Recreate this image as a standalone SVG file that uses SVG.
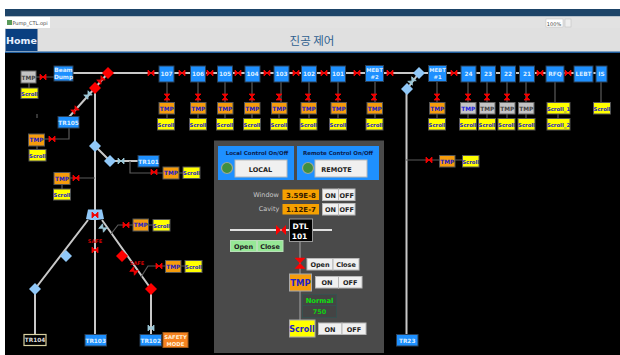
<svg xmlns="http://www.w3.org/2000/svg" width="620" height="355" viewBox="0 0 620 355">
<style>
text{font-family:"DejaVu Sans",sans-serif;font-weight:bold;text-anchor:middle;font-size:5.800px}
.b rect{fill:#1e90ff;stroke:#2b3f55;stroke-width:1}.b text{fill:#dbeeff}
.t rect{fill:#f59c0c;stroke:#555;stroke-width:1}.t text{fill:#2222c8}
.g rect{fill:#c4c4c4;stroke:#666;stroke-width:1}.g text{fill:#444}.g .bl{fill:#2222e0}
.s rect{fill:#ffff00;stroke:#555;stroke-width:1}.s text{fill:#2222c8;font-size:5.300px}
.w{stroke:#c8c8c8;stroke-width:2;fill:none}
.d{stroke:#5a5a5a;stroke-width:1.200;fill:none}
.btn rect{fill:#f0f0f0;stroke:#b8b8b8;stroke-width:1}.btn text{fill:#222;font-size:6.500px}
.grn rect{fill:#96e896;stroke:#b8e0b8;stroke-width:1}.grn text{fill:#222;font-size:6.500px}
.rd{fill:#ff0000}.lb{fill:#90c8f8}
</style>
<defs>
<path id="vh" d="M-3-3L3 3V-3L-3 3Z" fill="#f00000" stroke="#f00000" stroke-width=".8"/>
<path id="vv" d="M-3-3H3L-3 3H3Z" fill="#f00000" stroke="#f00000" stroke-width=".8"/>
<path id="vl" d="M-3-3L3 3V-3L-3 3Z" fill="#9cc8d8" stroke="#9cc8d8" stroke-width=".8"/>
<path id="dm" d="M-6 0L0-6L6 0L0 6Z"/>
</defs>
<rect width="620" height="355" fill="#fff"/>
<g id="window-chrome">
<rect x="5" y="9" width="615" height="7.500" fill="#1d4468"/>
<rect x="5" y="16.500" width="615" height="12" fill="#e2e2e2"/>
<rect x="5" y="17" width="45" height="11" fill="#fff"/>
<rect x="7" y="20" width="5" height="5" fill="#5a9a5a"/>
<text x="30" y="25" style="font-size:5px;font-weight:normal;fill:#444">Pump_CTL.opi</text>
<rect x="546" y="19" width="17" height="8" fill="#fff" stroke="#bbb" stroke-width=".5"/>
<text x="554" y="25.500" style="font-size:5px;font-weight:normal;fill:#444">100%</text>
<rect x="565" y="19" width="6" height="8" fill="#eee" stroke="#bbb" stroke-width=".5"/>
<rect x="5" y="28" width="615" height="24" fill="#e0e0e0"/>
<rect x="5" y="51.500" width="615" height="1.500" fill="#1f5c9c"/>
<rect x="5" y="53" width="615" height="302" fill="#000"/>
</g>
<g id="home"><rect x="5.500" y="29" width="32" height="22" fill="#0a3f80"/><text x="21.500" y="43.500" style="font-size:9.500px;fill:#e8f0ff">Home</text></g>
<text id="title" x="312" y="45" style="font-size:11.500px;font-weight:normal;fill:#2f5f8f;font-family:'Noto Sans CJK KR',sans-serif">진공 제어</text>
<g id="connectors">
<path class="w" d="M73 73H604M108 73L95 88L69 117M95 88V335M95 146L110 161H138M88 220L35 289V335M102 220L151 289V335M419 73L407 89M406.500 89V335"/>
<path class="d" d="M36 77H54M167 82V102M198 82V102M225 82V102M252 82V102M281 82V102M309 82V102M338 82V102M375 82V102M437 82V102M468 82V102M487 82V102M507 82V102M526 82V102M555 82V102M601 82V102M29 83V88M37 114V118M167 114V118M198 114V118M225 114V118M252 114V118M279 114V118M309 114V118M338 114V118M375 114V118M437 114V118M468 114V118M487 114V118M507 114V118M526 114V118M558 114V118M69 128V139H45M37 146V149M130 161V173H163M179 173H183M70 178H95M62 184V189M111 234L118 225H133M148 225H153M141 277L148 266H165M181 266H185M406 160H439M455 160H462"/>
</g>
<g id="valves">
<use href="#vh" x="43" y="77"/><use href="#vh" x="151" y="73"/><use href="#vh" x="182" y="73"/><use href="#vh" x="210" y="73"/><use href="#vh" x="238" y="73"/><use href="#vh" x="267" y="73"/><use href="#vh" x="296" y="73"/><use href="#vh" x="324" y="73"/><use href="#vh" x="357" y="73"/><use href="#vh" x="390" y="73"/><use href="#vh" x="454" y="73"/><use href="#vh" x="540" y="73"/><use href="#vh" x="568" y="73"/>
<use href="#vv" x="167" y="97"/><use href="#vv" x="198" y="97"/><use href="#vv" x="225" y="97"/><use href="#vv" x="252" y="97"/><use href="#vv" x="279" y="97"/><use href="#vv" x="308" y="97"/><use href="#vv" x="338" y="97"/><use href="#vv" x="374" y="97"/><use href="#vv" x="437" y="97"/><use href="#vv" x="468" y="97"/><use href="#vv" x="487" y="97"/><use href="#vv" x="507" y="97"/><use href="#vv" x="527" y="97"/>
<use href="#vh" x="101" y="80" transform="rotate(-45 101 80)"/><use href="#vh" x="75" y="110" transform="rotate(-45 75 110)"/><use href="#vl" x="88" y="95" transform="rotate(-45 88 95)"/><use href="#vl" x="412" y="81" transform="rotate(-50 412 81)"/>
<use href="#vh" x="52" y="139"/><use href="#vl" x="121" y="161"/><use href="#vh" x="154" y="172"/><use href="#vh" x="76" y="178"/><use href="#vl" x="103" y="228" transform="rotate(40 103 228)"/><use href="#vh" x="126" y="225"/><use href="#vh" x="95" y="250"/><use href="#vh" x="134" y="271" transform="rotate(40 134 271)"/><use href="#vh" x="159" y="266"/><use href="#vl" x="151" y="328"/><use href="#vh" x="429" y="160"/>
</g>
<g id="junctions">
<use href="#dm" class="rd" x="108" y="73"/><use href="#dm" class="rd" x="95" y="88"/>
<use href="#dm" class="lb" x="95" y="146"/><use href="#dm" class="lb" x="110" y="161"/>
<use href="#dm" class="lb" x="66" y="256"/><use href="#dm" class="lb" x="35" y="289"/>
<use href="#dm" class="rd" x="122" y="256"/><use href="#dm" class="rd" x="151" y="289"/>
<use href="#dm" class="lb" x="419" y="73"/><use href="#dm" class="lb" x="407" y="89"/>
<path class="lb" d="M88 209.500H102L104 219L97 220H91L86 219Z"/><use href="#vh" x="95" y="215"/>
</g>
<g id="safe-labels">
<text x="95" y="243" style="font-size:5px;fill:#d00000">SAFE</text><text x="137" y="265" style="font-size:5px;fill:#d00000">SAFE</text>
</g>
<g id="nodes-top">
<g id="n-beam" class="b"><rect x="54" y="66" width="19" height="15"/><text x="63.500" y="72">Beam</text><text x="63.500" y="79">Dump</text></g>
<g id="n-107" class="b"><rect x="159" y="66" width="15" height="16"/><text x="166.500" y="76">107</text></g>
<g id="n-106" class="b"><rect x="190.500" y="66" width="15" height="16"/><text x="198" y="76">106</text></g>
<g id="n-105" class="b"><rect x="217.500" y="66" width="15" height="16"/><text x="225" y="76">105</text></g>
<g id="n-104" class="b"><rect x="245" y="66" width="15" height="16"/><text x="252.500" y="76">104</text></g>
<g id="n-103" class="b"><rect x="274" y="66" width="15" height="16"/><text x="281.500" y="76">103</text></g>
<g id="n-102" class="b"><rect x="301.500" y="66" width="15" height="16"/><text x="309" y="76">102</text></g>
<g id="n-101" class="b"><rect x="330.500" y="66" width="15" height="16"/><text x="338" y="76">101</text></g>
<g id="n-mebt2" class="b"><rect x="365.500" y="65.500" width="18" height="16"/><text x="374.500" y="72" style="font-size:5.300px">MEBT</text><text x="374.500" y="79" style="font-size:5.300px">#2</text></g>
<g id="n-mebt1" class="b"><rect x="428.500" y="65.500" width="18" height="16"/><text x="437.500" y="72" style="font-size:5.300px">MEBT</text><text x="437.500" y="79" style="font-size:5.300px">#1</text></g>
<g id="n-24" class="b"><rect x="461" y="66" width="15" height="16"/><text x="468.500" y="76">24</text></g>
<g id="n-23" class="b"><rect x="480.500" y="66" width="15" height="16"/><text x="488" y="76">23</text></g>
<g id="n-22" class="b"><rect x="500.500" y="66" width="15" height="16"/><text x="508" y="76">22</text></g>
<g id="n-21" class="b"><rect x="519.500" y="66" width="15" height="16"/><text x="527" y="76">21</text></g>
<g id="n-rfq" class="b"><rect x="546" y="66" width="18" height="16"/><text x="555" y="76">RFQ</text></g>
<g id="n-lebt" class="b"><rect x="574" y="66" width="19" height="16"/><text x="583.500" y="76">LEBT</text></g>
<g id="n-is" class="b"><rect x="596" y="66" width="11" height="16"/><text x="601.500" y="76">IS</text></g>
</g>
<g id="nodes-pumps">
<g class="g"><rect x="21" y="71" width="15" height="12"/><text x="28.500" y="79.500">TMP</text></g>
<g class="s"><rect x="21" y="88" width="17" height="10.500"/><text x="29.500" y="95.500">Scroll</text></g>
<g class="t"><rect x="159" y="102.500" width="15.500" height="11.500"/><text x="166.800" y="110.500">TMP</text></g><g class="s"><rect x="157.500" y="118.500" width="17" height="11.500"/><text x="166" y="126.500">Scroll</text></g>
<g class="t"><rect x="190.500" y="102.500" width="15.500" height="11.500"/><text x="198.200" y="110.500">TMP</text></g><g class="s"><rect x="189.500" y="118.500" width="17" height="11.500"/><text x="198" y="126.500">Scroll</text></g>
<g class="t"><rect x="217.500" y="102.500" width="15.500" height="11.500"/><text x="225.200" y="110.500">TMP</text></g><g class="s"><rect x="216.500" y="118.500" width="17" height="11.500"/><text x="225" y="126.500">Scroll</text></g>
<g class="t"><rect x="244.500" y="102.500" width="15.500" height="11.500"/><text x="252.200" y="110.500">TMP</text></g><g class="s"><rect x="243.500" y="118.500" width="17" height="11.500"/><text x="252" y="126.500">Scroll</text></g>
<g class="t"><rect x="271.500" y="102.500" width="15.500" height="11.500"/><text x="279.200" y="110.500">TMP</text></g><g class="s"><rect x="270.500" y="118.500" width="17" height="11.500"/><text x="279" y="126.500">Scroll</text></g>
<g class="t"><rect x="301" y="102.500" width="15.500" height="11.500"/><text x="308.700" y="110.500">TMP</text></g><g class="s"><rect x="300" y="118.500" width="17" height="11.500"/><text x="308.500" y="126.500">Scroll</text></g>
<g class="t"><rect x="331" y="102.500" width="15.500" height="11.500"/><text x="338.700" y="110.500">TMP</text></g><g class="s"><rect x="329.500" y="118.500" width="17" height="11.500"/><text x="338" y="126.500">Scroll</text></g>
<g class="t"><rect x="367" y="102.500" width="15.500" height="11.500"/><text x="374.700" y="110.500">TMP</text></g><g class="s"><rect x="366" y="118.500" width="17" height="11.500"/><text x="374.500" y="126.500">Scroll</text></g>
<g class="t"><rect x="429.500" y="102.500" width="15.500" height="11.500"/><text x="437.200" y="110.500">TMP</text></g><g class="s"><rect x="428.500" y="118.500" width="17" height="11.500"/><text x="437" y="126.500">Scroll</text></g>
<g class="g"><rect x="460.500" y="102.500" width="15.500" height="11.500"/><text class="bl" x="468.200" y="110.500">TMP</text></g><g class="s"><rect x="459.500" y="118.500" width="17" height="11.500"/><text x="468" y="126.500">Scroll</text></g>
<g class="g"><rect x="479.500" y="102.500" width="15.500" height="11.500"/><text x="487.200" y="110.500">TMP</text></g><g class="s"><rect x="478.500" y="118.500" width="17" height="11.500"/><text x="487" y="126.500">Scroll</text></g>
<g class="g"><rect x="499.500" y="102.500" width="15.500" height="11.500"/><text x="507.200" y="110.500">TMP</text></g><g class="s"><rect x="498" y="118.500" width="17" height="11.500"/><text x="506.500" y="126.500">Scroll</text></g>
<g class="g"><rect x="518.500" y="102.500" width="15.500" height="11.500"/><text x="526.200" y="110.500">TMP</text></g><g class="s"><rect x="518" y="118.500" width="17" height="11.500"/><text x="526.500" y="126.500">Scroll</text></g>
<g class="s"><rect x="547" y="102.500" width="23" height="11.500"/><text x="558.500" y="110.500">Scroll_1</text></g><g class="s"><rect x="547" y="118.500" width="23" height="11.500"/><text x="558.500" y="126.500">Scroll_2</text></g>
<g class="s"><rect x="593.500" y="102.500" width="17" height="11.500"/><text x="602" y="110.500">Scroll</text></g>
</g>
<g id="nodes-lower">
<g id="n-tr105" class="b"><rect x="58" y="116.500" width="21" height="11.500"/><text x="68.500" y="124.500">TR105</text></g>
<g class="t"><rect x="28.500" y="134" width="16" height="12"/><text x="36.500" y="142">TMP</text></g><g class="s"><rect x="29" y="149.500" width="17" height="11.500"/><text x="37.500" y="157.500">Scroll</text></g>
<g id="n-tr101" class="b"><rect x="138" y="155.500" width="21" height="11.500"/><text x="148.500" y="163.500">TR101</text></g>
<g class="t"><rect x="163" y="167" width="16" height="12"/><text x="171" y="175">TMP</text></g><g class="s"><rect x="183" y="167" width="17" height="11.500"/><text x="191.500" y="175">Scroll</text></g>
<g class="t"><rect x="54" y="172.500" width="16" height="12"/><text x="62" y="180.500">TMP</text></g><g class="s"><rect x="53.500" y="189" width="17" height="11"/><text x="62" y="197">Scroll</text></g>
<g class="t"><rect x="133" y="219" width="15.500" height="12"/><text x="140.700" y="227">TMP</text></g><g class="s"><rect x="153" y="219.500" width="17" height="11.500"/><text x="161.500" y="227.500">Scroll</text></g>
<g class="t"><rect x="165.500" y="260.500" width="15.500" height="12"/><text x="173.200" y="268.500">TMP</text></g><g class="s"><rect x="185" y="260.500" width="17" height="12"/><text x="193.500" y="268.500">Scroll</text></g>
<g id="n-tr104"><rect x="24" y="334.500" width="22" height="11" fill="#000" stroke="#d8d0a0" stroke-width="1.200"/><text x="35" y="341.800" style="fill:#ddd">TR104</text></g>
<g id="n-tr103" class="b"><rect x="85" y="334.500" width="21.500" height="11.500"/><text x="95.700" y="342.500">TR103</text></g>
<g id="n-tr102" class="b"><rect x="140" y="334.500" width="21.500" height="11.500"/><text x="150.700" y="342.500">TR102</text></g>
<g id="n-safety"><rect x="163" y="332.500" width="25" height="15" fill="#f58220" stroke="#a05a18"/><text x="175.500" y="339" style="font-size:5.300px;fill:#fff0d8">SAFETY</text><text x="175.500" y="345.500" style="font-size:5.300px;fill:#fff0d8">MODE</text></g>
<g id="n-tr23" class="b"><rect x="396.500" y="334.500" width="21.500" height="11.500"/><text x="407.200" y="342.500">TR23</text></g>
<g class="t"><rect x="439.500" y="155.500" width="15.500" height="11.500"/><text x="447.200" y="163.500">TMP</text></g><g class="s"><rect x="462.500" y="155.500" width="16.500" height="11.500"/><text x="470.700" y="163.500">Scroll</text></g>
</g>
<g id="panel">
<rect x="214" y="140.500" width="170" height="212.500" fill="#4a4a4a"/>
<g id="local"><rect x="218" y="146" width="76" height="34" fill="#1e90ff"/><text x="257" y="155" style="font-size:5.500px;fill:#0a2050">Local Control On/Off</text><circle cx="227" cy="168" r="5.500" fill="#3f8f3f" stroke="#9aa89a" stroke-width="1.200"/><g class="btn"><rect x="235" y="160" width="52" height="17"/><text x="260.500" y="171.500">LOCAL</text></g></g>
<g id="remote"><rect x="297" y="146" width="82" height="34" fill="#1e90ff"/><text x="338" y="155" style="font-size:5.500px;fill:#0a2050">Remote Control On/Off</text><circle cx="308" cy="168" r="5.500" fill="#3f8f3f" stroke="#9aa89a" stroke-width="1.200"/><g class="btn"><rect x="315" y="160" width="52" height="17"/><text x="336.500" y="171.500">REMOTE</text></g></g>
<text x="266" y="196.500" style="font-size:6.500px;font-weight:normal;fill:#c8c8c8">Window</text>
<text x="269" y="211" style="font-size:6.500px;font-weight:normal;fill:#c8c8c8">Cavity</text>
<rect x="282.500" y="189.500" width="36.500" height="10.500" fill="#f5a000"/><text x="301" y="197.500" style="font-size:7px;fill:#331a00">3.59E-8</text>
<rect x="282.500" y="204" width="36.500" height="10.500" fill="#f5a000"/><text x="301" y="212" style="font-size:7px;fill:#331a00">1.12E-7</text>
<g class="btn"><rect x="322.500" y="189" width="16" height="11.500"/><text x="330.500" y="197.500">ON</text><rect x="338.500" y="189" width="16.500" height="11.500"/><text x="346.700" y="197.500">OFF</text></g>
<g class="btn"><rect x="322.500" y="203.500" width="16" height="11.500"/><text x="330.500" y="212">ON</text><rect x="338.500" y="203.500" width="16.500" height="11.500"/><text x="346.700" y="212">OFF</text></g>
<path d="M230 230H332" stroke="#e0e0e0" stroke-width="2"/>
<path d="M300 241V320" stroke="#888" stroke-width="1.500"/>
<path d="M276 225V235L281 230Z M286 225V235L281 230Z" fill="#f00"/>
<g id="dtl"><rect x="289.500" y="219" width="23" height="22.500" fill="#000" stroke="#999" stroke-width="1"/><text x="300.500" y="229" style="font-size:7.500px;fill:#fff">DTL</text><text x="299.500" y="239" style="font-size:7.500px;fill:#fff">101</text></g>
<g class="grn"><rect x="230.500" y="240.500" width="26" height="11"/><text x="243.500" y="248.500">Open</text><rect x="257.500" y="240.500" width="25.500" height="11"/><text x="270" y="248.500">Close</text></g>
<path d="M295 258H305L295 268.500H305Z" fill="#f00" stroke="#f00" stroke-width=".5"/>
<g class="btn"><rect x="307" y="258.500" width="26" height="11.500"/><text x="320" y="266.800">Open</text><rect x="333" y="258.500" width="26" height="11.500"/><text x="346" y="266.800">Close</text></g>
<g id="panel-tmp"><rect x="289.500" y="274" width="22" height="17" fill="#f59c0c" stroke="#aaa" stroke-width="1"/><text x="300.500" y="285.500" style="font-size:8.500px;fill:#2222c8">TMP</text></g>
<g class="btn"><rect x="315.500" y="276.500" width="23" height="11.500"/><text x="327" y="285">ON</text><rect x="338.500" y="276.500" width="23.500" height="11.500"/><text x="350.300" y="285">OFF</text></g>
<rect x="302.500" y="294.500" width="34" height="11" fill="#444" stroke="#36504f"/><text x="319.500" y="302.500" style="font-size:6.800px;fill:#10e010">Normal</text>
<rect x="302.500" y="305.500" width="34" height="12" fill="#444" stroke="#36504f"/><text x="319.500" y="314" style="font-size:6.500px;fill:#10d010">750</text>
<g id="panel-scroll"><rect x="289.500" y="320" width="25.500" height="17" fill="#ff0" stroke="#aaa" stroke-width="1"/><text x="302" y="331.500" style="font-size:8px;fill:#2222c8">Scroll</text></g>
<g class="btn"><rect x="318.500" y="323" width="23.500" height="11.500"/><text x="330" y="331.500">ON</text><rect x="342" y="323" width="24" height="11.500"/><text x="354" y="331.500">OFF</text></g>
</g>
</svg>
